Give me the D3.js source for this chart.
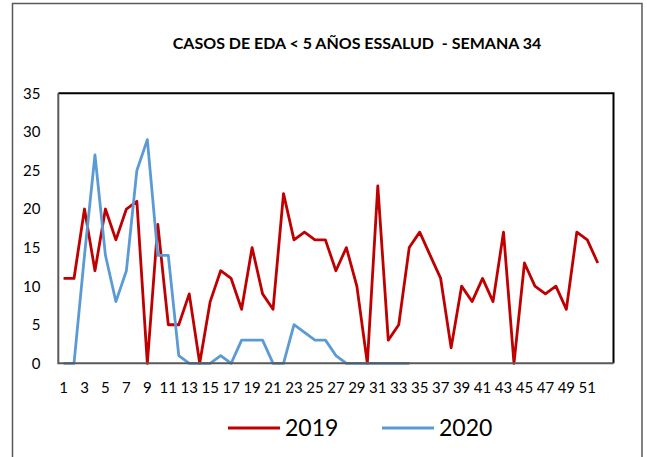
<!DOCTYPE html>
<html>
<head>
<meta charset="utf-8">
<script src="https://cdn.jsdelivr.net/npm/d3@7"></script>
<style>
  body { margin: 0; background: #fff; }
  text { font-family: Lato, "Noto Sans", sans-serif; fill: #000; }
</style>
</head>
<body>
<div id="chart"></div>
<script>
// semanas epidemiológicas (la 53 queda vacía, como en el original)
const weeks = [
  1, 2, 3, 4, 5, 6, 7, 8, 9, 10, 11, 12, 13, 14, 15, 16, 17, 18, 19, 20,
  21, 22, 23, 24, 25, 26, 27, 28, 29, 30, 31, 32, 33, 34, 35, 36, 37, 38, 39, 40,
  41, 42, 43, 44, 45, 46, 47, 48, 49, 50, 51, 52, 53
];
const cases2019 = [
  11, 11, 20, 12, 20, 16, 20, 21, 0, 18, 5, 5, 9, 0, 8, 12, 11, 7, 15, 9,
  7, 22, 16, 17, 16, 16, 12, 15, 10, 0, 23, 3, 5, 15, 17, 14, 11, 2, 10, 8,
  11, 8, 17, 0, 13, 10, 9, 10, 7, 17, 16, 13
];
const cases2020 = [
  0, 0, 14, 27, 14, 8, 12, 25, 29, 14, 14, 1, 0, 0, 0, 1, 0, 3, 3, 3,
  0, 0, 5, 4, 3, 3, 1, 0, 0, 0, 0, 0, 0, 0
];
const yTicks = [0, 5, 10, 15, 20, 25, 30, 35];
const xLabels = [1, 3, 5, 7, 9, 11, 13, 15, 17, 19, 21, 23, 25, 27, 29, 31, 33, 35, 37, 39, 41, 43, 45, 47, 49, 51];

const width = 647, height = 457;
const plot = { left: 58.3, right: 613.5, top: 93.3, bottom: 363.3 };

const svg = d3.select("#chart").append("svg")
  .attr("width", width).attr("height", height);

// marco exterior
svg.append("rect")
  .attr("x", 12.5).attr("y", 3.5)
  .attr("width", 629.5).attr("height", height)
  .attr("fill", "none").attr("stroke", "#595959").attr("stroke-width", 1.5);

svg.append("text")
  .attr("x", 357).attr("y", 49)
  .attr("text-anchor", "middle")
  .style("font-size", "16px").style("font-weight", "bold")
  .text("CASOS DE EDA < 5 AÑOS ESSALUD\u00a0 - SEMANA 34");

const x = d3.scaleBand().domain(weeks).range([plot.left, plot.right]).padding(0);
const y = d3.scaleLinear().domain([0, 35]).range([plot.bottom, plot.top]);
const cx = (w) => x(w) + x.bandwidth() / 2;

// etiquetas eje Y
svg.append("g").selectAll("text")
  .data(yTicks).enter().append("text")
  .attr("x", 40.5).attr("y", (d) => y(d))
  .attr("dy", "0.36em")
  .attr("text-anchor", "end")
  .style("font-size", "15px")
  .text((d) => d);

// etiquetas eje X
svg.append("g").selectAll("text")
  .data(xLabels).enter().append("text")
  .attr("x", (d) => cx(d)).attr("y", 388)
  .attr("dy", "0.36em")
  .attr("text-anchor", "middle")
  .style("font-size", "15px")
  .text((d) => d);

const line = d3.line()
  .x((d, i) => cx(weeks[i]))
  .y((d) => y(d));

svg.append("path").datum(cases2019)
  .attr("d", line)
  .attr("fill", "none").attr("stroke", "#C00000")
  .attr("stroke-width", 2.8).attr("stroke-linejoin", "round");

svg.append("path").datum(cases2020)
  .attr("d", line)
  .attr("fill", "none").attr("stroke", "#5B9BD5")
  .attr("stroke-width", 2.8).attr("stroke-linejoin", "round");

// borde del área de trazado
svg.append("path")
  .attr("d", `M${plot.left},${plot.top}H${plot.right}V${plot.bottom}`)
  .attr("fill", "none").attr("stroke", "#000").attr("stroke-width", 2);
svg.append("path")
  .attr("d", `M${plot.left},${plot.top}V${plot.bottom}H${plot.right}`)
  .attr("fill", "none").attr("stroke", "#595959").attr("stroke-width", 2);

// leyenda
const legend = [
  { name: "2019", color: "#C00000", x: 228 },
  { name: "2020", color: "#5B9BD5", x: 382 }
];
const lg = svg.append("g").selectAll("g")
  .data(legend).enter().append("g")
  .attr("transform", (d) => `translate(${d.x},428)`);
lg.append("line")
  .attr("x1", 0).attr("x2", 52)
  .attr("stroke", (d) => d.color).attr("stroke-width", 2.8);
lg.append("text")
  .attr("x", 57).attr("dy", "0.36em")
  .style("font-size", "23px")
  .text((d) => d.name);
</script>
</body>
</html>
